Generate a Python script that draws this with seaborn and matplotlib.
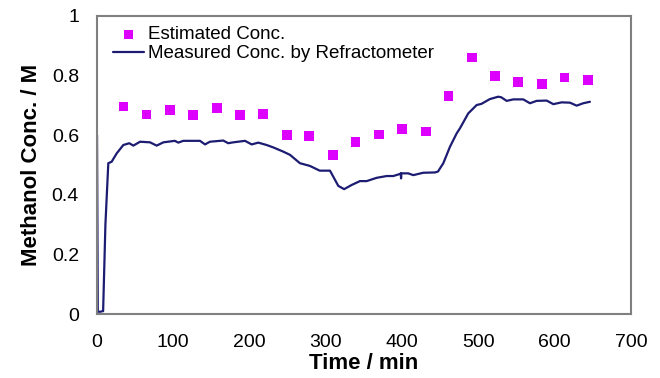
import matplotlib
matplotlib.use("Agg")
import matplotlib.pyplot as plt
import seaborn as sns
import pandas as pd

# Estimated concentration (squares)
est_time = [34.5, 65.1, 95.7, 126.2, 156.9, 187.4, 217.2, 248.7, 278.3, 309.0, 339.0,
            370.0, 400.0, 431.0, 461.0, 491.5, 522.0, 552.0, 583.0, 613.0, 644.0]
est_conc = [0.696, 0.669, 0.685, 0.668, 0.691, 0.667, 0.671, 0.601, 0.597, 0.534, 0.578,
            0.602, 0.620, 0.612, 0.731, 0.860, 0.798, 0.779, 0.772, 0.794, 0.785]

# Measured concentration by refractometer (line)
meas_time = [0, 1, 4, 8, 11, 14.8, 19.2, 25.8, 34.5, 42.3, 47.6, 56.4, 69.5, 78.2, 87,
             102, 106.6, 113, 135, 141.6, 148, 165.5, 172, 178.7, 194, 202.8, 211.4,
             222.4, 231, 244, 253, 266, 279, 292, 305.4, 309.7, 316.3, 324, 333.8,
             344.7, 353.5, 366.6, 379.7, 388.4, 397.2, 398.2, 398.6, 399.0, 408, 414.6,
             427.7, 443, 447, 454, 462.7, 471.5, 475.8, 486.7, 497.7, 504, 515, 526,
             530, 537, 545.7, 558.8, 567.6, 576.3, 589.5, 598.2, 609, 620, 628.8,
             637.4, 646.2]
meas_conc = [0.600, 0.008, 0.008, 0.010, 0.300, 0.506, 0.511, 0.539, 0.567, 0.573, 0.565,
             0.578, 0.576, 0.565, 0.576, 0.581, 0.575, 0.581, 0.581, 0.569, 0.578,
             0.582, 0.573, 0.576, 0.581, 0.569, 0.575, 0.567, 0.559, 0.545, 0.534,
             0.506, 0.497, 0.481, 0.481, 0.461, 0.430, 0.419, 0.433, 0.446, 0.446,
             0.457, 0.463, 0.463, 0.470, 0.472, 0.455, 0.472, 0.472, 0.466, 0.474,
             0.475, 0.478, 0.506, 0.561, 0.606, 0.623, 0.673, 0.701, 0.705, 0.721,
             0.729, 0.727, 0.715, 0.720, 0.720, 0.707, 0.715, 0.716, 0.704, 0.710,
             0.709, 0.699, 0.707, 0.712]

x_ticks = [0, 100, 200, 300, 400, 500, 600, 700]
y_ticks = [0, 0.2, 0.4, 0.6, 0.8, 1.0]
y_tick_labels = ["0", "0.2", "0.4", "0.6", "0.8", "1"]

sns.set_style("white")
plt.rcParams["font.family"] = ["Liberation Sans", "DejaVu Sans"]
plt.rcParams["text.color"] = "black"
plt.rcParams["axes.labelcolor"] = "black"

est_df = pd.DataFrame({"t": est_time, "c": est_conc})
meas_df = pd.DataFrame({"t": meas_time, "c": meas_conc})

fig = plt.figure(figsize=(6.6, 3.78), dpi=100)
ax = fig.add_axes([0.147, 0.169, 0.809, 0.789])

sns.scatterplot(data=est_df, x="t", y="c", ax=ax, marker="s", s=48,
                color="#dd00ff", edgecolor="none", label="Estimated Conc.", zorder=3)
sns.lineplot(data=meas_df, x="t", y="c", ax=ax, estimator=None, sort=False,
             color="#1c1c72", linewidth=1.6, label="Measured Conc. by Refractometer")

ax.set_xlim(0, 700)
ax.set_ylim(0, 1)
ax.set_xticks(x_ticks)
ax.set_xticklabels([str(v) for v in x_ticks])
ax.set_yticks(y_ticks)
ax.set_yticklabels(y_tick_labels)
ax.tick_params(axis="both", direction="in", length=5, width=1, color="#808080",
               labelsize=14, labelcolor="black")
ax.tick_params(axis="x", pad=14)
ax.tick_params(axis="y", pad=13)
for sp in ax.spines.values():
    sp.set_color("#808080")
    sp.set_linewidth(1.5)

ax.set_xlabel("Time / min", fontsize=16, fontweight="bold", labelpad=2, color="black")
ax.set_ylabel("Methanol Conc. / M", fontsize=16, fontweight="bold", labelpad=7,
              color="black")

leg = ax.legend(loc="upper left", frameon=False, fontsize=13.5, handlelength=1.65,
                handletextpad=0.2, borderaxespad=0, borderpad=0, labelspacing=0.1,
                bbox_to_anchor=(0.03, 0.965))
for t in leg.get_texts():
    t.set_color("black")

fig.savefig("out.png", dpi=100)
